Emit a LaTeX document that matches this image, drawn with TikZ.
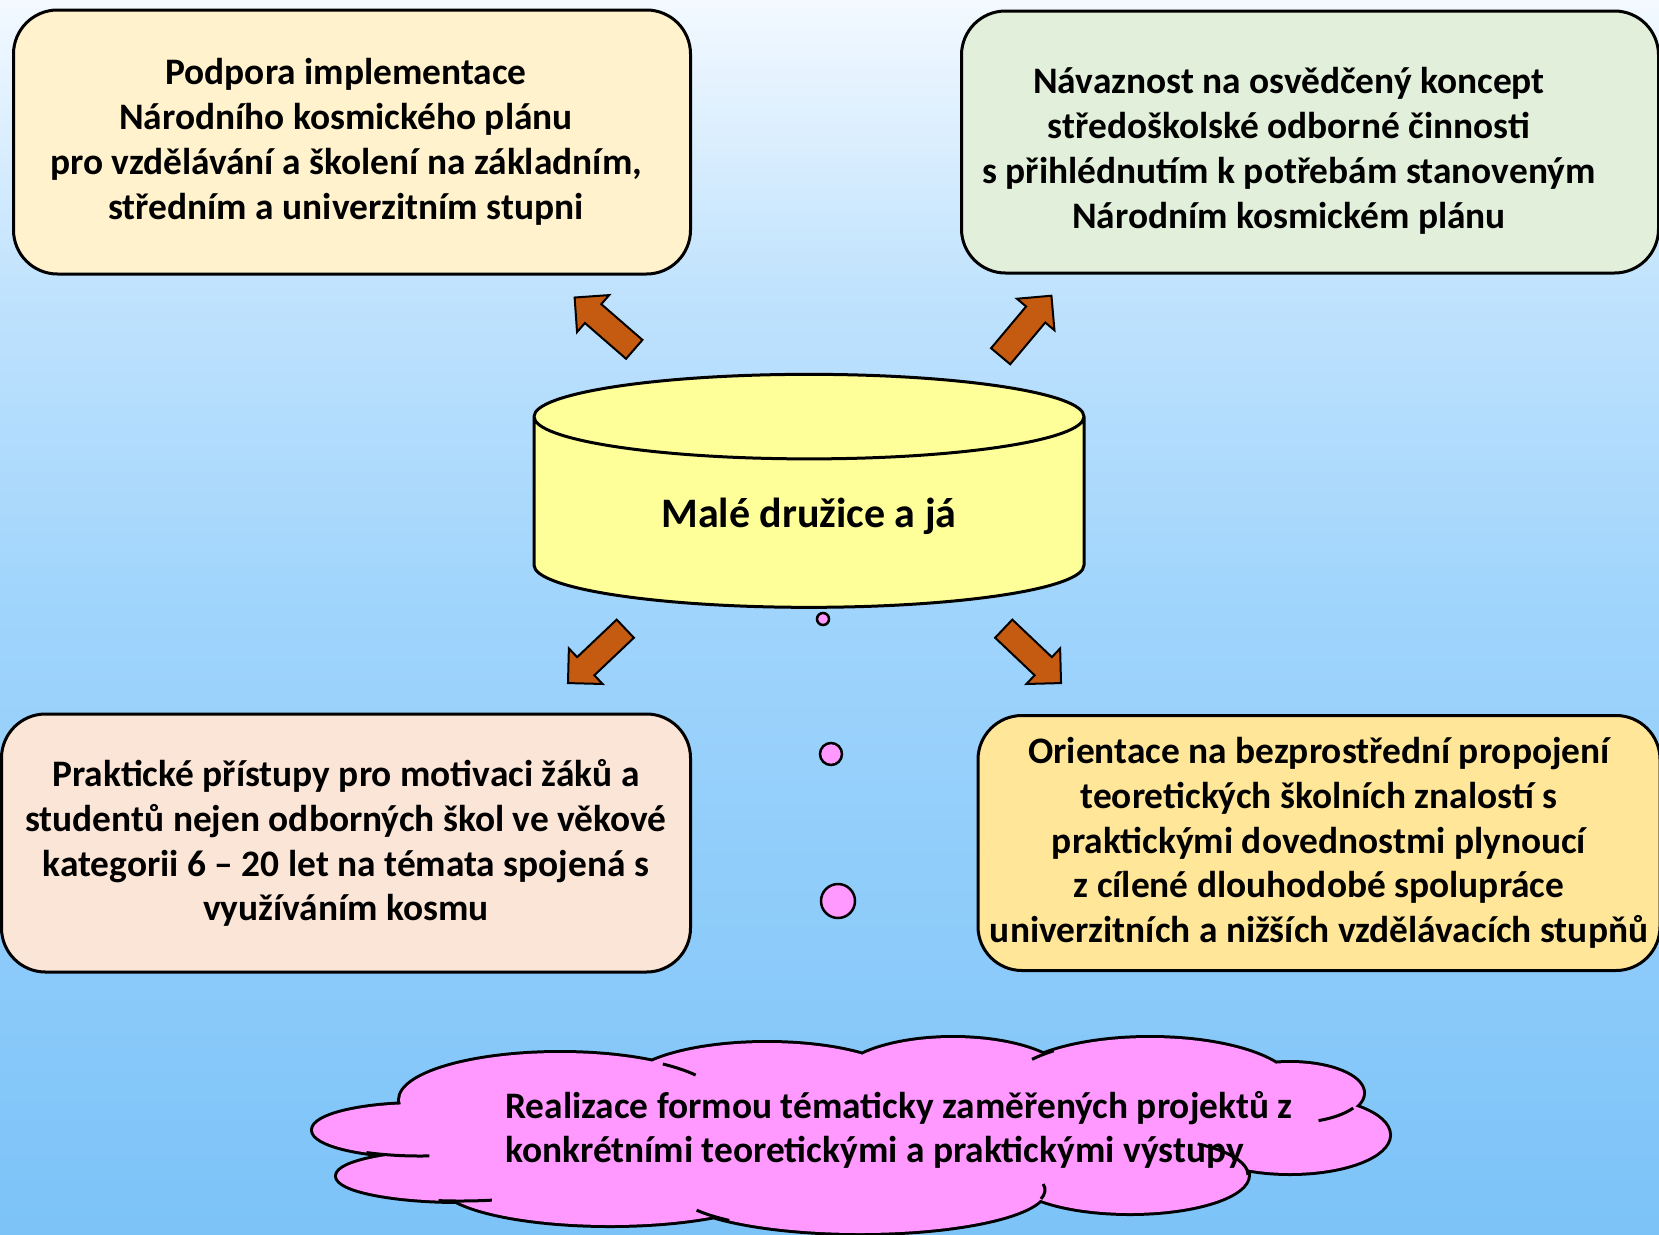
\documentclass[tikz,border=0pt]{standalone}
\usepackage{fontspec}
\setmainfont{Carlito}
\usetikzlibrary{shapes.geometric, shapes.arrows, positioning}

\definecolor{skytop}{HTML}{F3F9FF}
\definecolor{skyhi}{HTML}{BFE2FD}
\definecolor{skymid}{HTML}{9FD4FC}
\definecolor{skybot}{HTML}{7CC3F8}
\definecolor{cream}{HTML}{FFF2CC}
\definecolor{mint}{HTML}{E2EFDA}
\definecolor{peach}{HTML}{FBE5D6}
\definecolor{gold}{HTML}{FFE699}
\definecolor{lemon}{HTML}{FFFF99}
\definecolor{rust}{HTML}{C55A11}
\definecolor{orchid}{HTML}{FF99FF}

\pgfdeclareverticalshading{sky}{100bp}{color(0bp)=(skybot); color(25bp)=(skybot);
  color(50bp)=(skymid); color(63bp)=(skyhi); color(75bp)=(skytop); color(100bp)=(skytop)}

% lobes of the cloud
\newcommand{\cloudlobes}{
  (420,1130) ellipse [x radius=107, y radius=26]
  (460,1176) ellipse [x radius=123, y radius=25]
  (560,1100) ellipse [x radius=160, y radius=47]
  (767,1088) ellipse [x radius=142, y radius=45]
  (953,1083) ellipse [x radius=117, y radius=45]
  (1150,1088) ellipse [x radius=144, y radius=50]
  (1290,1093) ellipse [x radius=73, y radius=30]
  (1290,1135) ellipse [x radius=99, y radius=38]
  (1130,1175) ellipse [x radius=118, y radius=38]
  (860,1190) ellipse [x radius=185, y radius=43]
  (610,1183) ellipse [x radius=170, y radius=42]
  (850,1135) ellipse [x radius=430, y radius=60]}

\tikzset{
  box/.style={draw, line width=3pt, rounded corners=44pt, align=center,
    font=\fontsize{37.4}{44.8}\selectfont\bfseries},
  fatarrow/.style={single arrow, draw, line width=2pt, fill=rust, anchor=tail,
    minimum height=79pt, inner sep=11.5pt, single arrow head extend=12pt,
    single arrow head indent=0pt},
  dot/.style={circle, draw, line width=2.5pt, fill=orchid, inner sep=0pt},
  hook/.style={line width=3pt}
}

\begin{document}
\begin{tikzpicture}[x=1pt, y=-1pt, on grid]
  \shade[shading=sky] (0,0) rectangle (1659,1234);
  \useasboundingbox (0,0) rectangle (1659,1234);

  % four boxes
  \node[box, fill=cream, minimum width=677pt, minimum height=264pt] (plan) at (352,142)
    {\hspace*{-12pt}Podpora implementace\\\hspace*{-12pt}Národního kosmického plánu\\\hspace*{-12pt}pro vzdělávání a školení na základním,\\\hspace*{-12pt}středním a univerzitním stupni};
  \node[box, fill=mint, minimum width=697pt, minimum height=262pt] (sok) at (1310,142)
    {\hspace*{-42pt}\rule{0pt}{44pt}Návaznost na osvědčený koncept\\\hspace*{-42pt}středoškolské odborné činnosti\\\hspace*{-42pt}s přihlédnutím k potřebám stanoveným\\\hspace*{-42pt}Národním kosmickém plánu};
  \node[box, fill=peach, minimum width=689pt, minimum height=258pt] (prax) at (346,843)
    {Praktické přístupy pro motivaci žáků a\\studentů nejen odborných škol ve věkové\\kategorii 6 -- 20 let na témata spojená s\\využíváním kosmu};
  \node[box, fill=gold, minimum width=682pt, minimum height=255pt] (orient) at (1319,843)
    {Orientace na bezprostřední propojení\\teoretických školních znalostí s\\praktickými dovednostmi plynoucí\\z cílené dlouhodobé spolupráce\\univerzitních a nižších vzdělávacích stupňů};

  % centre
  \node[draw, line width=3pt, fill=lemon, cylinder, shape border rotate=90, aspect=0.28,
    minimum width=550pt, minimum height=233pt,
    font=\fontsize{42}{50}\selectfont\bfseries] (sat) at (809,516) {Malé družice a já};

  \node[fatarrow, rotate=139] (a1) at (635,350) {};
  \node[fatarrow, rotate=50] (a2) at (1000,357) {};
  \node[fatarrow, rotate=223.5] (a3) at (626,628) {};
  \node[fatarrow, rotate=-43.5] (a4) at (1003,628) {};

  \node[dot, minimum size=12pt] (d1) at (823,619) {};
  \node[dot, minimum size=22pt] (d2) [below right=135pt and 8pt of d1] {};
  \node[dot, minimum size=34pt] (d3) [below right=147pt and 7pt of d2] {};

  % cloud
  \draw[line width=6pt] \cloudlobes;
  \fill[orchid] \cloudlobes;
  \draw[hook] ([shift={(420,1130)}]120:107 and 26) arc[start angle=120, end angle=85, x radius=107, y radius=26];
  \draw[hook] ([shift={(460,1176)}]100:123 and 25) arc[start angle=100, end angle=75, x radius=123, y radius=25];
  \draw[hook] ([shift={(560,1100)}]-50:160 and 47) arc[start angle=-50, end angle=-32, x radius=160, y radius=47];
  \draw[hook] ([shift={(1150,1088)}]228:144 and 50) arc[start angle=228, end angle=215, x radius=144, y radius=50];
  \draw[hook] ([shift={(1290,1093)}]30:73 and 30) arc[start angle=30, end angle=67, x radius=73, y radius=30];
  \draw[hook] ([shift={(1130,1175)}]-55:118 and 38) arc[start angle=-55, end angle=0, x radius=118, y radius=38];
  \draw[hook] ([shift={(860,1190)}]12:185 and 43) arc[start angle=12, end angle=-8, x radius=185, y radius=43];
  \draw[hook] ([shift={(860,1190)}]135:185 and 43) arc[start angle=135, end angle=152, x radius=185, y radius=43];
  \node[align=left, anchor=west, inner sep=0pt,
    font=\fontsize{37.4}{44}\selectfont\bfseries] (real) at (505,1130)
    {Realizace formou tématicky zaměřených projektů z\\konkrétními teoretickými a praktickými výstupy};
\end{tikzpicture}
\end{document}
